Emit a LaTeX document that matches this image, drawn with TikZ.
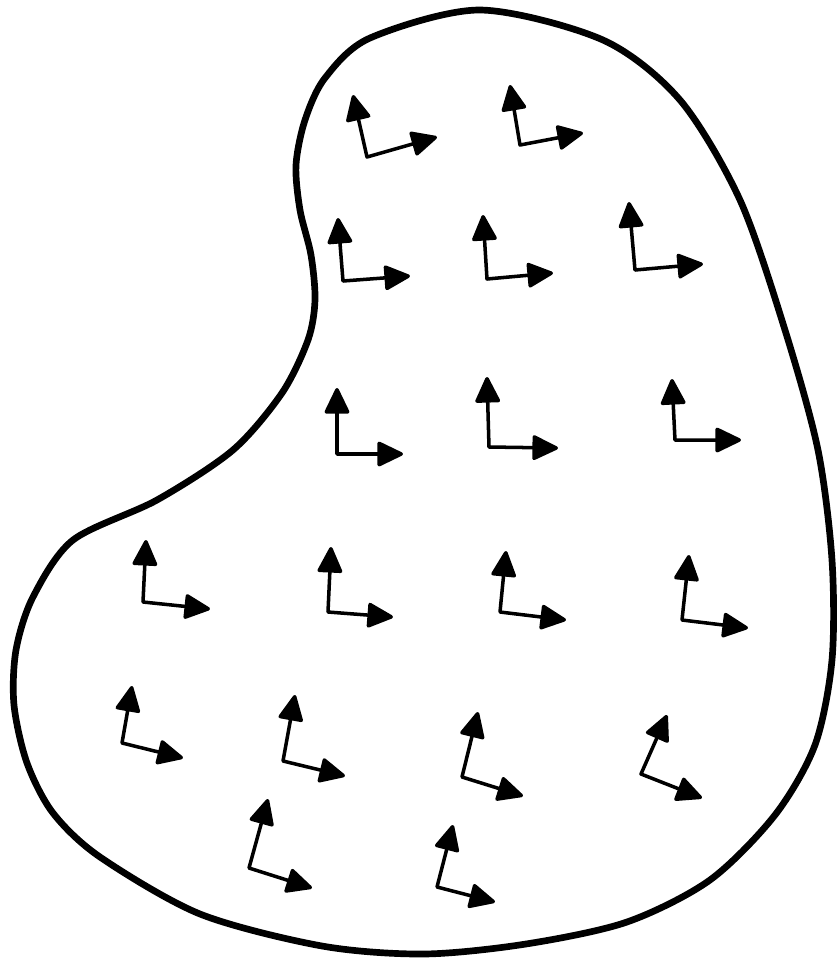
\documentclass[tikz,border=0pt]{standalone}
\usetikzlibrary{arrows.meta}

\tikzset{
  outline/.style={line width=1.9pt, line join=round},
  axes/.style={{Triangle[length=2.8mm, width=2.6mm, round]}-{Triangle[length=2.8mm, width=2.6mm, round]}, line width=1pt, line join=round}
}

\begin{document}
\begin{tikzpicture}[x=0.1mm, y=-0.1mm]
    \useasboundingbox (0,0) rectangle (838,962);

    % the region
    \draw [outline] plot [smooth cycle] coordinates {
        (480,10) (603,40) (680,100) (740,200) (785,330) (818,450)
        (832,560) (832,660) (815,745) (775,815) (710,880) (627,922)
        (526,944) (424,954) (322,946) (200,914) (100,857) (53,813) (27,763)
        (14,705) (16,650) (33,597) (73,540) (157,500) (233,450) (282,393)
        (308,340) (315,300) (311,255) (300,210) (296,165) (305,120) (325,78)
        (370,38)};

    % frame corners and tips
    \coordinate (o1) at (367,157);  \coordinate (x1) at (437,137);  \coordinate (y1) at (353,95);
    \coordinate (o2) at (520,145);  \coordinate (x2) at (583,133);  \coordinate (y2) at (510,85);
    \coordinate (o3) at (343,281);  \coordinate (x3) at (410,276);  \coordinate (y3) at (338,218);
    \coordinate (o4) at (487,279);  \coordinate (x4) at (553,273);  \coordinate (y4) at (483,215);
    \coordinate (o5) at (635,270);  \coordinate (x5) at (703,264);  \coordinate (y5) at (629,202);
    \coordinate (o6) at (337,454);  \coordinate (x6) at (403,454);  \coordinate (y6) at (337,388);
    \coordinate (o7) at (489,447);  \coordinate (x7) at (558,448);  \coordinate (y7) at (487,377);
    \coordinate (o8) at (675,440);  \coordinate (x8) at (741,440);  \coordinate (y8) at (672,379);
    \coordinate (o9) at (143,602);  \coordinate (x9) at (210,609);  \coordinate (y9) at (146,540);
    \coordinate (o10) at (328,612); \coordinate (x10) at (393,617); \coordinate (y10) at (331,547);
    \coordinate (o11) at (500,612); \coordinate (x11) at (566,620); \coordinate (y11) at (506,551);
    \coordinate (o12) at (682,620); \coordinate (x12) at (748,628); \coordinate (y12) at (689,555);
    \coordinate (o13) at (122,743); \coordinate (x13) at (183,758); \coordinate (y13) at (132,686);
    \coordinate (o14) at (283,761); \coordinate (x14) at (345,776); \coordinate (y14) at (295,695);
    \coordinate (o15) at (462,777); \coordinate (x15) at (523,796); \coordinate (y15) at (478,712);
    \coordinate (o16) at (641,774); \coordinate (x16) at (702,798); \coordinate (y16) at (667,715);
    \coordinate (o17) at (249,868); \coordinate (x17) at (312,888); \coordinate (y17) at (268,799);
    \coordinate (o18) at (437,887); \coordinate (x18) at (495,902); \coordinate (y18) at (453,825);

    % the frames
    \draw [axes] (y1) -- (o1) -- (x1);
    \draw [axes] (y2) -- (o2) -- (x2);
    \draw [axes] (y3) -- (o3) -- (x3);
    \draw [axes] (y4) -- (o4) -- (x4);
    \draw [axes] (y5) -- (o5) -- (x5);
    \draw [axes] (y6) -- (o6) -- (x6);
    \draw [axes] (y7) -- (o7) -- (x7);
    \draw [axes] (y8) -- (o8) -- (x8);
    \draw [axes] (y9) -- (o9) -- (x9);
    \draw [axes] (y10) -- (o10) -- (x10);
    \draw [axes] (y11) -- (o11) -- (x11);
    \draw [axes] (y12) -- (o12) -- (x12);
    \draw [axes] (y13) -- (o13) -- (x13);
    \draw [axes] (y14) -- (o14) -- (x14);
    \draw [axes] (y15) -- (o15) -- (x15);
    \draw [axes] (y16) -- (o16) -- (x16);
    \draw [axes] (y17) -- (o17) -- (x17);
    \draw [axes] (y18) -- (o18) -- (x18);
\end{tikzpicture}
\end{document}
